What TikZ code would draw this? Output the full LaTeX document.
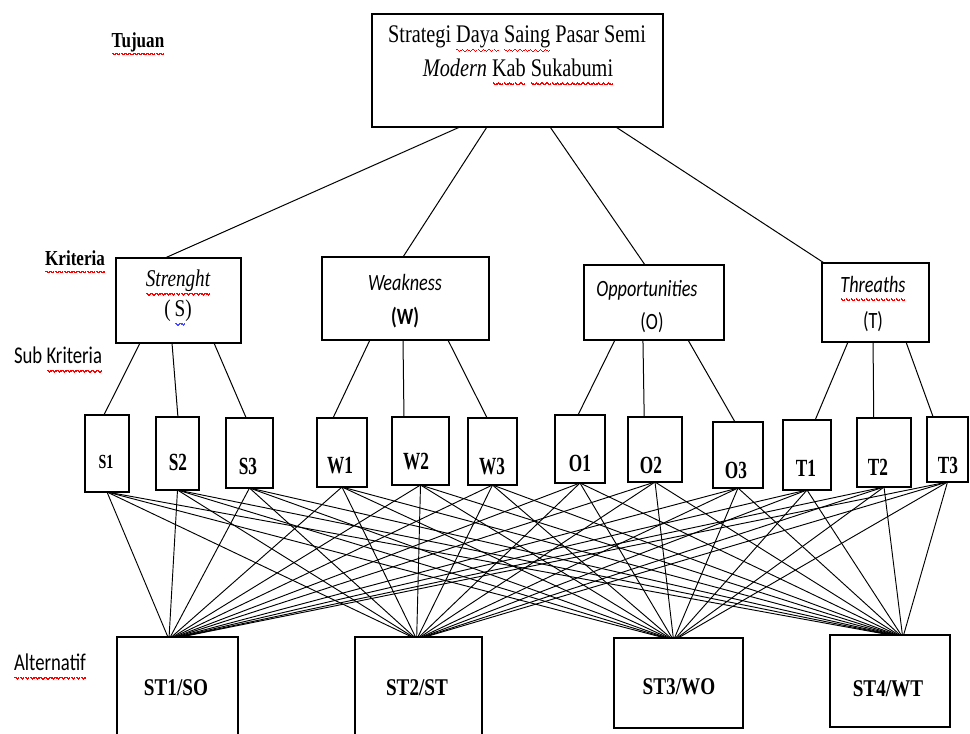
\documentclass[tikz,border=0pt]{standalone}
\usepackage{fontspec}
\setmainfont{Liberation Serif}
\newfontfamily\myserif{Liberation Serif}[FakeStretch=0.8]
\newfontfamily\myserifn{Liberation Serif}[FakeStretch=0.7]
\newfontfamily\mysans{Carlito}[FakeStretch=0.78]
\usetikzlibrary{calc}
\newcommand\wav[2][red]{\leavevmode\setbox0=\hbox{#2}\rlap{\hbox to \wd0{\color{#1}\xleaders\hbox{%
\vrule height -0.24em depth 0.30em width 0.05em
\vrule height -0.275em depth 0.335em width 0.05em
\vrule height -0.31em depth 0.37em width 0.05em
\vrule height -0.275em depth 0.335em width 0.05em}\hfill}}\box0\relax}
\newcommand\mybox[5]{\node[boxst, minimum width={(#4-#2)*0.75pt}, minimum height={(#5-#3)*0.75pt}] (#1) at ({(#2+#4)/2},{(#3+#5)/2}) {};}
\begin{document}
\begin{tikzpicture}[x=0.75pt,y=-0.75pt,
  boxst/.style={draw, line width=1pt, inner sep=0pt, outer sep=0pt},
  conn/.style={line width=0.75pt},
  web/.style={line width=0.7pt},
  txt/.style={inner sep=0pt},
  goalfont/.style={txt, font={\myserif\fontsize{19}{22}\selectfont}},
  levelfont/.style={txt, font={\myserif\bfseries\fontsize{16}{18}\selectfont}},
  levelsans/.style={txt, font={\mysans\fontsize{18}{20}\selectfont}},
  critfont/.style={txt, font={\mysans\itshape\fontsize{17.5}{20}\selectfont}},
  critser/.style={txt, font={\myserif\itshape\fontsize{18}{20}\selectfont}},
  letfont/.style={txt, font={\mysans\fontsize{17.5}{20}\selectfont}},
  subfont/.style={txt, font={\myserifn\bfseries\fontsize{18.5}{20}\selectfont}},
  altfont/.style={txt, font={\myserif\bfseries\fontsize{18}{20}\selectfont}}]
\fill[white] (0,0) rectangle (970,734);
\useasboundingbox (0,0) rectangle (970,734);

% level labels
\node[levelfont] (lTujuan) at (138,44) {\wav{Tujuan}};
\node[levelfont] (lKriteria) at (75,262) {\wav{Kriteria}};
\node[levelsans] (lSub) at (58,360) {Sub \wav{Kriteria}};
\node[levelsans] (lAlt) at (50,667) {\wav{Alternatif}};

% goal
\mybox{goal}{372}{14}{663}{127}
\node[goalfont] (g1) at (517,39) {Strategi \wav{Daya} \wav{Saing} Pasar Semi};
\node[goalfont] (g2) at (518,72) {\textit{Modern} \wav{Kab} \wav{Sukabumi}};

% criteria
\mybox{cS}{116}{258}{241}{343}
\mybox{cW}{322}{257}{489}{340}
\mybox{cO}{584}{265}{724}{340}
\mybox{cT}{822}{263}{929}{342}
\node[critser] (tcS) at (178,283) {\wav{Strenght}};
\node[txt, font={\myserif\fontsize{18}{20}\selectfont}] (tcS2) at (178,313) {(\,\wav[blue!70]{S})};
\node[critfont] (tcW) at (405,282) {Weakness};
\node[txt, font={\mysans\bfseries\fontsize{17.5}{20}\selectfont}] (tcW2) at (405,318) {(W)};
\node[critfont] (tcO) at (647,290) {Opportunities};
\node[letfont] (tcO2) at (652,323) {(O)};
\node[critfont] (tcT) at (873,289) {\wav{Threaths}};
\node[letfont] (tcT2) at (873,322) {(T)};

% sub criteria
\mybox{S1}{85}{415}{129}{492}
\mybox{S2}{156}{417}{199}{490}
\mybox{S3}{226}{418}{273}{488}
\mybox{W1}{317}{418}{367}{487}
\mybox{W2}{392}{417}{449}{485}
\mybox{W3}{468}{418}{517}{485}
\mybox{O1}{555}{415}{605}{483}
\mybox{O2}{628}{417}{682}{482}
\mybox{O3}{713}{422}{763}{488}
\mybox{T1}{783}{420}{831}{490}
\mybox{T2}{857}{418}{911}{487}
\mybox{T3}{927}{417}{968}{482}
\node[txt, font={\myserifn\bfseries\fontsize{15}{17}\selectfont}] (tS1) at (106,462) {S1};
\node[subfont] (tS2) at (178,462) {S2};
\node[subfont] (tS3) at (248,466) {S3};
\node[subfont] (tW1) at (340,466) {W1};
\node[subfont] (tW2) at (416,462) {W2};
\node[subfont] (tW3) at (492,467) {W3};
\node[subfont] (tO1) at (580,463) {O1};
\node[subfont] (tO2) at (651,465) {O2};
\node[subfont] (tO3) at (736,470) {O3};
\node[subfont] (tT1) at (806,468) {T1};
\node[subfont] (tT2) at (878,467) {T2};
\node[subfont] (tT3) at (948,465) {T3};

% alternatives
\mybox{A1}{117}{637}{238}{740}
\mybox{A2}{355}{637}{482}{740}
\mybox{A3}{614}{638}{743}{728}
\mybox{A4}{830}{635}{950}{727}
\node[altfont] (tA1) at (176,688) {ST1/SO};
\node[altfont] (tA2) at (417,688) {ST2/ST};
\node[altfont] (tA3) at (679,687) {ST3/WO};
\node[altfont] (tA4) at (888,689) {ST4/WT};

% goal -> criteria
\draw[conn] ($(goal.south west)!.302!(goal.south east)$) -- ($(cS.north west)!.392!(cS.north east)$);
\draw[conn] ($(goal.south west)!.395!(goal.south east)$) -- ($(cW.north west)!.485!(cW.north east)$);
\draw[conn] ($(goal.south west)!.612!(goal.south east)$) -- ($(cO.north west)!.436!(cO.north east)$);
\draw[conn] ($(goal.south west)!.838!(goal.south east)$) -- ($(cT.north west)!.02!(cT.north east)$);

% criteria -> sub
\draw[conn] ($(cS.south west)!.192!(cS.south east)$) -- ($(S1.north west)!.43!(S1.north east)$);
\draw[conn] ($(cS.south west)!.448!(cS.south east)$) -- ($(S2.north west)!.51!(S2.north east)$);
\draw[conn] ($(cS.south west)!.784!(cS.south east)$) -- ($(S3.north west)!.43!(S3.north east)$);
\draw[conn] ($(cW.south west)!.287!(cW.south east)$) -- ($(W1.north west)!.32!(W1.north east)$);
\draw[conn] ($(cW.south west)!.485!(cW.south east)$) -- ($(W2.north west)!.21!(W2.north east)$);
\draw[conn] ($(cW.south west)!.754!(cW.south east)$) -- ($(W3.north west)!.39!(W3.north east)$);
\draw[conn] ($(cO.south west)!.221!(cO.south east)$) -- ($(O1.north west)!.46!(O1.north east)$);
\draw[conn] ($(cO.south west)!.421!(cO.south east)$) -- ($(O2.north west)!.30!(O2.north east)$);
\draw[conn] ($(cO.south west)!.743!(cO.south east)$) -- ($(O3.north west)!.44!(O3.north east)$);
\draw[conn] ($(cT.south west)!.243!(cT.south east)$) -- ($(T1.north west)!.67!(T1.north east)$);
\draw[conn] ($(cT.south west)!.477!(cT.south east)$) -- ($(T2.north west)!.31!(T2.north east)$);
\draw[conn] ($(cT.south west)!.785!(cT.south east)$) -- ($(T3.north west)!.15!(T3.north east)$);

% sub -> alternatives
\foreach \s [count=\i] in {S1,S2,S3,W1,W2,W3,O1,O2,O3,T1,T2,T3}{
  \foreach \a/\off in {A1/-3,A2/0,A3/-7,A4/7}{
    \draw[web] (\s.south) -- ($(\a.north)+({\off+(\i-6.5)*1.2},0)$);
  }
}
\end{tikzpicture}
\end{document}
